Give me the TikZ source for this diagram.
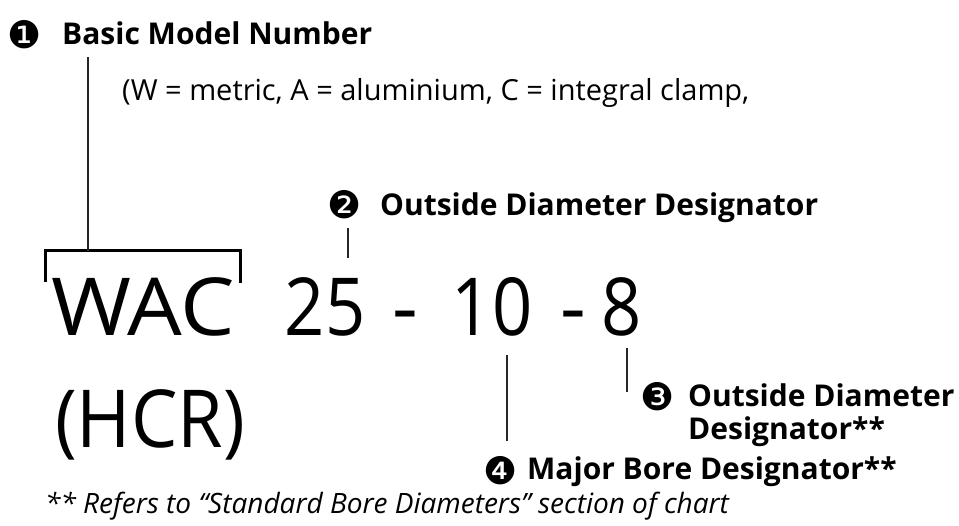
\documentclass[tikz,border=0pt]{standalone}
\usepackage{fontspec}
\setmainfont{Open Sans}
\newfontfamily\dv{DejaVu Sans}
\newfontfamily\wide[FakeStretch=1.08]{Open Sans}
\newfontfamily\narrow[FakeStretch=0.92]{Open Sans}
\newfontfamily\digs[FakeStretch=0.88]{Open Sans}
\begin{document}
\begin{tikzpicture}[x=1pt,y=-1pt,
  lab/.style={font=\fontsize{30}{33}\selectfont\bfseries, inner sep=0pt, anchor=base west},
  txt/.style={font=\fontsize{29}{32}\selectfont, inner sep=0pt, anchor=base west},
  big/.style={font=\fontsize{80}{84}\selectfont, inner sep=0pt, anchor=base},
  num/.style={font=\dv\fontsize{38}{40}\selectfont, inner sep=0pt},
  note/.style={font=\fontsize{28}{30}\selectfont\itshape, inner sep=0pt, anchor=base west},
  conn/.style={line width=2pt, black!85},
  brk/.style={line width=3pt, black}]
\useasboundingbox (0,0) rectangle (959,526);

% 1
\node[num] (c1) at (25,35) {❶};
\node[lab] (t1) at (62,45) {Basic Model Number};
\node[txt] (t1b) at (122,101) {(W = metric, A = aluminium, C = integral clamp,};

% main code
\node[big, font=\wide\fontsize{80}{84}\selectfont] (wac) at (143,336) {WAC};
\node[big, font=\digs\fontsize{80}{84}\selectfont] (n25) at (325,336) {25};
\node[big] (d1) at (405,336) {-};
\node[big, font=\digs\fontsize{80}{84}\selectfont] (n10) at (492,336) {10};
\node[big] (d2) at (573,336) {-};
\node[big, font=\digs\fontsize{80}{84}\selectfont] (n8) at (622,336) {8};
\node[big, font=\narrow\fontsize{80}{84}\selectfont] (hcr) at (150,448) {(HCR)};

% bracket and connector 1
\coordinate (a1) at (88,57);
\coordinate (a2) at (88,251);
\coordinate (bl) at (45,282);
\coordinate (btl) at (45,251);
\coordinate (btr) at (240,251);
\coordinate (br) at (240,283);
\draw[brk] (bl) -- (btl) -- (btr) -- (br);
\draw[conn] (a1) -- (a2);

% 2
\node[num] (c2) at (345,205) {❷};
\node[lab] (t2) at (380,216) {Outside Diameter Designator};
\coordinate (b1) at (348,228);
\coordinate (b2) at (348,258);
\draw[conn] (b1) -- (b2);

% 3
\node[num] (c3) at (658,397) {❸};
\node[lab] (t3) at (688,407) {Outside Diameter};
\node[lab] (t3b) at (688,440) {Designator**};
\coordinate (e1) at (627,348);
\coordinate (e2) at (627,392);
\draw[conn] (e1) -- (e2);

% 4
\node[num] (c4) at (501,471) {❹};
\node[lab] (t4) at (527,480) {Major Bore Designator**};
\coordinate (f1) at (507,355);
\coordinate (f2) at (507,441);
\draw[conn] (f1) -- (f2);

% footnote
\node[note] (fn) at (45,513) {** Refers to ``Standard Bore Diameters'' section of chart};
\end{tikzpicture}
\end{document}
